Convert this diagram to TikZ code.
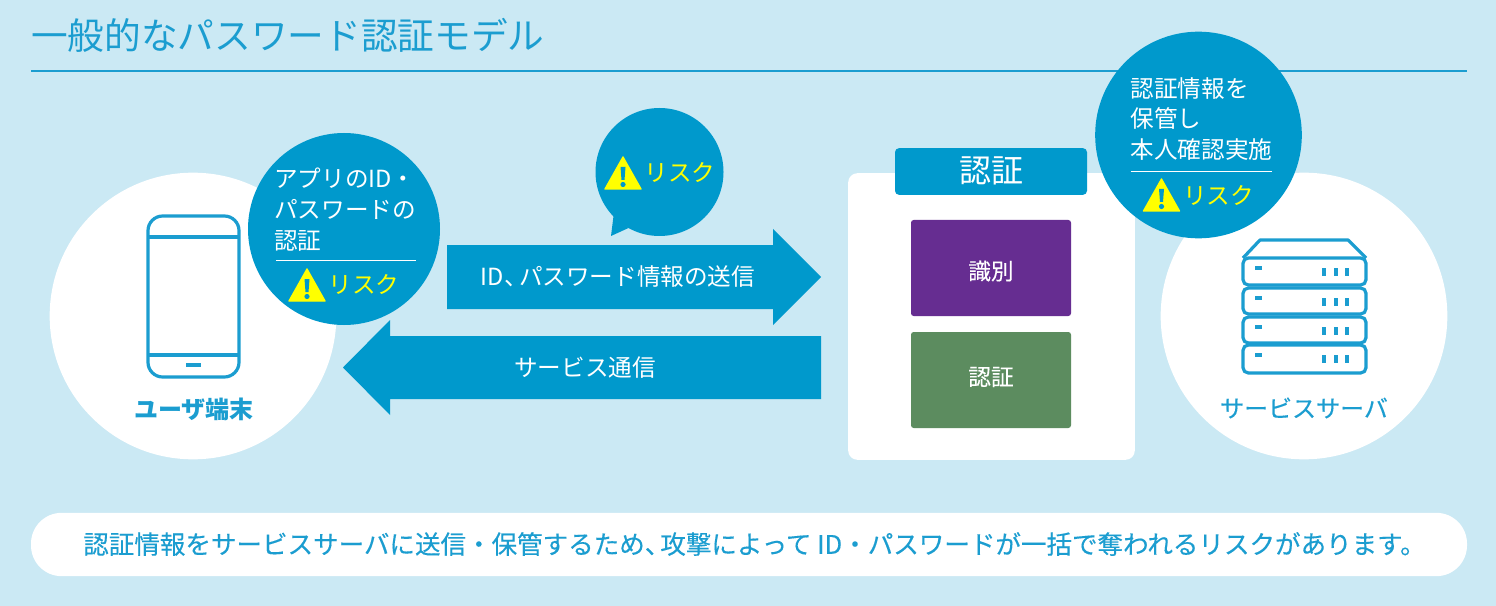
\documentclass[tikz,border=0pt]{standalone}
\usepackage{fontspec}
\setmainfont{Noto Sans CJK JP}
\newfontfamily\mediumcjk[FakeBold=0.25]{Noto Sans CJK JP}
\usetikzlibrary{calc}
\definecolor{my-back}{HTML}{CBE9F4}
\definecolor{my-blue}{HTML}{0099CC}
\definecolor{my-line}{HTML}{1B9DD0}
\definecolor{my-purple}{HTML}{662D91}
\definecolor{my-green}{HTML}{5C8C5F}
\definecolor{my-yellow}{HTML}{FFFF00}
\newcommand{\pxfont}[1]{\fontsize{#1}{#1}\selectfont}
\tikzset{
    my-white-circle/.style={
        fill=white, shape=circle, minimum size=215pt, inner sep=0pt
    },
    my-bubble/.style={
        fill=my-blue, shape=circle, inner sep=0pt
    },
    my-block/.style={
        fill=#1, rounded corners=2pt, minimum width=120pt, minimum height=72pt, inner sep=0pt
    },
    my-block-text/.style={
        text=white, font=\mediumcjk\pxfont{17}, inner sep=0pt
    },
    my-white-text/.style={
        text=white, font=\pxfont{17.7}, inner sep=0pt
    },
    my-bubble-text/.style={
        text=white, font=\fontsize{17.7}{23}\selectfont, align=left, anchor=north west, inner sep=0pt
    },
    my-risk-text/.style={
        text=my-yellow, font=\pxfont{17.7}, inner sep=0pt
    },
    my-device-text/.style={
        text=my-line, font=\mediumcjk\pxfont{18}, inner sep=0pt
    },
    my-icon/.style={
        draw=my-line, line width=2.4pt
    },
    my-alert/.pic={
        \fill[my-yellow, draw=my-yellow, line width=1pt, line join=round] (-18,16) -- (0,-16) -- (18,16) -- cycle;
        \fill[my-blue] (-2.5,-6) -- (2.5,-6) -- (1.5,7) -- (-1.5,7) -- cycle;
        \fill[my-blue] (0,11.5) circle (2.6);
    },
}
\begin{document}
\begin{tikzpicture}[x=.75pt, y=-.75pt]
        \useasboundingbox (0,0) rectangle (1496,606);
        \fill[my-back] (0,0) rectangle (1496,606);

        % TITLE AND RULE
        \node[anchor=west, inner sep=0pt, text=my-line, font=\pxfont{27.5}] (TITLE) at (31,35) {一般的なパスワード認証モデル};
        \coordinate (RULEL) at (31,71);
        \coordinate (RULER) at (1467,71);
        \draw[my-line, line width=1pt] (RULEL) -- (RULER);

        % USER DEVICE
        \node[my-white-circle] (USER) at (193,316) {};
        \draw[my-icon, rounded corners=11pt] ($(USER) + (-45,-100)$) rectangle ($(USER) + (46,61)$);
        \draw[my-icon] ($(USER) + (-45,-79)$) -- ($(USER) + (46,-79)$);
        \draw[my-icon] ($(USER) + (-45,39)$) -- ($(USER) + (46,39)$);
        \draw[my-icon] ($(USER) + (-7,49)$) -- ($(USER) + (8,49)$);
        \node[my-device-text, font=\bfseries\pxfont{18}] (USERTXT) at ($(USER) + (1,93)$) {ユーザ端末};

        % SERVICE SERVER
        \node[my-white-circle] (SERVER) at (1304,316) {};
        \draw[my-icon, line join=round] ($(SERVER) + (-61,-58)$) -- ($(SERVER) + (-44,-76)$) -- ($(SERVER) + (44,-76)$) -- ($(SERVER) + (62,-58)$);
        \foreach \ytop/\ybot in {-58/-31, -28/-2, 1/27, 29/57} {
            \draw[my-icon, rounded corners=4pt] ($(SERVER) + (-61,\ytop)$) rectangle ($(SERVER) + (62,\ybot)$);
            \draw[my-icon] ($(SERVER) + (-49,\ytop+10)$) -- ($(SERVER) + (-42,\ytop+10)$);
            \foreach \xled in {20,32,43} {
                \draw[my-icon] ($(SERVER) + (\xled,\ytop+10)$) -- ($(SERVER) + (\xled,\ytop+18)$);
            }
        }
        \node[my-device-text] (SERVERTXT) at ($(SERVER) + (0,92)$) {サービスサーバ};

        % AUTH PANEL
        \node[fill=white, rounded corners=7pt, minimum width=215pt, minimum height=215pt, inner sep=0pt] (PANEL) at (991.5,316.5) {};
        \node[fill=my-blue, rounded corners=3pt, minimum width=144pt, minimum height=35pt, inner sep=0pt] (AUTH) at ($(PANEL) + (-.5,-145)$) {};
        \node[text=white, font=\pxfont{24}, inner sep=0pt] (AUTHTXT) at ($(AUTH) + (0,-.5)$) {認証};
        \node[my-block=my-purple] (IDENT)  at ($(PANEL) + (-.5,-48.5)$) {};
        \node[my-block=my-green]  (VERIFY) at ($(PANEL) + (-.5,63.5)$)  {};
        \node[my-block-text] (IDENTTXT)  at ($(IDENT) + (0,3)$)   {識別};
        \node[my-block-text] (VERIFYTXT) at ($(VERIFY) + (0,-3)$) {認証};

        % ARROWS
        \fill[my-blue] (447,245) -- (773,245) -- (773,229) -- (821,277) -- (773,325) -- (773,309) -- (447,309) -- cycle;
        \fill[my-blue] (821,336) -- (390,336) -- (390,320) -- (343,367.5) -- (390,415) -- (390,399) -- (821,399) -- cycle;
        \node[my-white-text] (SEND) at (618,277)  {ID、\kern-6.5pt パスワード情報の送信};
        \node[my-white-text] (RECV) at (585,367.5) {サービス通信};

        % LEFT BUBBLE
        \node[my-bubble, minimum size=144pt] (APPRISK) at (344,229) {};
        \node[my-bubble-text] (APPTXT) at ($(APPRISK) + (-70,-61)$) {アプリのID・\\パスワードの\\認証};
        \coordinate (APPL) at ($(APPRISK) + (-68,31)$);
        \coordinate (APPR) at ($(APPRISK) + (72,31)$);
        \draw[white, line width=.7pt] (APPL) -- (APPR);
        \pic at ($(APPRISK) + (-37,56)$) {my-alert};
        \node[my-risk-text] (APPRISKTXT) at ($(APPRISK) + (20,55)$) {リスク};

        % MIDDLE BUBBLE
        \node[my-bubble, minimum size=96pt] (NETRISK) at (659.5,172) {};
        \fill[my-blue] ($(NETRISK) + (-46,44)$) -- ($(NETRISK) + (-48.5,64)$) -- ($(NETRISK) + (-31,56)$) -- cycle;
        \pic at ($(NETRISK) + (-36.5,1)$) {my-alert};
        \node[my-risk-text] (NETRISKTXT) at ($(NETRISK) + (20.5,0)$) {リスク};

        % RIGHT BUBBLE
        \node[my-bubble, minimum size=155pt] (SRVRISK) at (1198.5,135) {};
        \node[my-bubble-text] (SRVTXT) at ($(SRVRISK) + (-68,-58)$) {認証情報を\\保管し\\本人確認実施};
        \coordinate (SRVL) at ($(SRVRISK) + (-68,36)$);
        \coordinate (SRVR) at ($(SRVRISK) + (73,36)$);
        \draw[white, line width=.7pt] (SRVL) -- (SRVR);
        \pic at ($(SRVRISK) + (-37,60)$) {my-alert};
        \node[my-risk-text] (SRVRISKTXT) at ($(SRVRISK) + (20,60)$) {リスク};

        % BOTTOM NOTE
        \node[fill=white, rounded corners=23pt, minimum width=1077pt, minimum height=47.5pt, inner sep=0pt] (NOTE) at (749,544.5) {};
        \node[text=my-line, font=\mediumcjk\pxfont{19.15}, inner sep=0pt] (NOTETXT) at (754.5,544) {認証情報をサービスサーバに送信・保管するため、\kern-7.5pt 攻撃によって ID・パスワードが一括で奪われるリスクがあります。};

    \end{tikzpicture}
\end{document}
